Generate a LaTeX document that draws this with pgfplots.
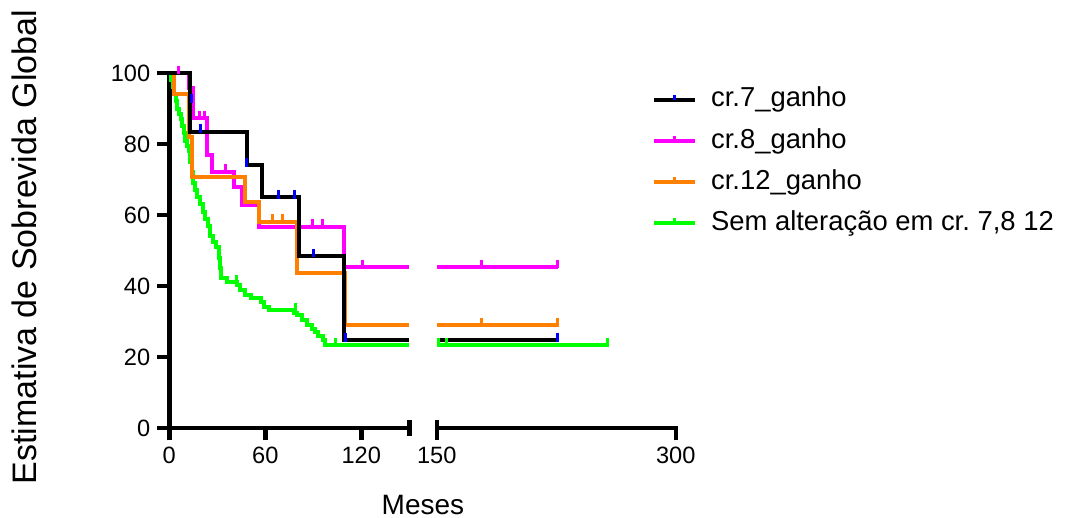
\documentclass[border=0pt]{standalone}
\usepackage{pgfplots}
\pgfplotsset{compat=1.18}
\usepackage{fontspec}
\setmainfont{Liberation Sans}
\frenchspacing
\definecolor{kmMag}{RGB}{255,0,255}
\definecolor{kmOra}{RGB}{255,128,0}
\definecolor{kmGre}{RGB}{0,255,0}
\definecolor{kmBlu}{RGB}{0,0,255}
\pgfplotsset{
  kmbase/.style={
    scale only axis, anchor=south west,
    height=177.65pt, ymin=0, ymax=100,
    axis line style={-, line width=2.2pt, line cap=rect},
    x axis line style={-}, y axis line style={-},
    tick style={line width=2.2pt, black},
    tick align=outside, major tick length=6pt,
    /pgf/number format/assume math mode=true,
    ticklabel style={font=\fontsize{11.8}{12}\selectfont},
    clip=false,
  },
  km/.style={const plot, line width=2pt, no marks, forget plot},
  censor/.style={only marks, mark=|, mark size=2.2pt, forget plot,
    mark options={line width=1.5pt, yshift=1.5pt}},
}
\begin{document}
\begin{tikzpicture}
\useasboundingbox (0,0) rectangle (532.5pt,259pt);
% ---------------- left segment ----------------
\begin{axis}[kmbase, at={(84.65pt,44.85pt)}, width=120pt,
  xmin=0, xmax=150,
  axis x line*=bottom, axis y line*=left,
  xtick={0,60,120}, ytick={0,20,40,60,80,100},
  extra x ticks={150}, extra x tick labels={},
  extra x tick style={tick align=center, major tick length=8pt},
  ylabel={Estimativa de Sobrevida Global},
  ylabel style={font=\fontsize{17}{19}\selectfont, at={(axis description cs:-0.605,0.51)}, anchor=center},
  xlabel={Meses},
  xlabel style={font=\fontsize{14}{16}\selectfont, at={(axis description cs:1.057,-0.244)}, anchor=base},
]
% green: Sem alteracao
\addplot[km, kmGre] coordinates {
(0,100)(1,98)(2,96)(3,94)(4,92)(5,90)(6,88.5)(7,87)(8,85)(9,83)(10,81)(11,79.5)(12,78)
(13,75)(14,72)(15,69)(16,67)(17,65)(19,63)(21,61)(22.5,59)(24,57)(25.5,54)(27,52.5)
(29,51)(31,48)(31.5,45)(32,42.2)(36,41.2)(42,40.2)(44,38.9)(47,37.5)(51,36.6)(57,35.5)
(59,34.2)(62,33.2)(78,32.5)(80,31.8)(83,30.5)(86,29)(89,28)(91,27)(93,26)(96,24.8)
(97,23.4)(150,23.4)};
\addplot[censor, kmGre] coordinates {(42,41.2)(79,33.2)(104,23.4)};
% magenta: cr.8
\addplot[km, kmMag] coordinates {
(0,100)(12,95.7)(15,87.2)(23.5,76.9)(26.6,72.2)(40.2,68)(45.4,62.8)(55.9,56.7)
(109.2,45.4)(150,45.4)};
\addplot[censor, kmMag] coordinates {(6,100)(19,87.2)(22,87.2)(35,72.2)(89.4,56.7)(95.7,56.7)(121,45.4)};
% orange: cr.12
\addplot[km, kmOra] coordinates {
(0,100)(3,94)(12,82)(14,70.8)(47.5,63.8)(55.9,58.1)(80,43.6)(109.7,29)(150,29)};
\addplot[censor, kmOra] coordinates {(64.6,58.1)(70.9,58.1)};
% black: cr.7
\addplot[km, black] coordinates {
(0,100)(13,83.5)(48.4,74)(58,65)(81,48.5)(109,24.8)(150,24.8)};
\addplot[censor, kmBlu] coordinates {(14,92)(19.5,83.5)(48,74)(68,65)(78,65)(90,48.5)(110,24.8)};
\end{axis}
% ---------------- right segment ----------------
\begin{axis}[kmbase, at={(218.4pt,44.85pt)}, width=119.45pt,
  xmin=150, xmax=300,
  axis x line*=bottom, axis y line=none,
  xtick={150,300},
  extra x ticks={150}, extra x tick labels={},
  extra x tick style={tick align=inside, major tick length=4pt},
  legend cell align=left,
  legend style={at={(axis description cs:0.8996,0.962)}, anchor=north west,
    draw=none, fill=none, inner sep=0pt,
    font=\fontsize{13.7}{16}\selectfont,
    nodes={inner sep=0pt, text height=10pt, text depth=3pt},
    row sep=7.6pt, column sep=7pt},
]
\addplot[km, kmGre] coordinates {(150,23.4)(257,23.4)};
\addplot[censor, kmGre] coordinates {(151,23.4)(156,23.4)(257,23.4)};
\addplot[km, kmMag] coordinates {(150,45.4)(226,45.4)};
\addplot[censor, kmMag] coordinates {(178,45.4)(226,45.4)};
\addplot[km, kmOra] coordinates {(150,29)(226,29)};
\addplot[censor, kmOra] coordinates {(178,29)(226,29)};
\addplot[km, black] coordinates {(150,24.8)(226,24.8)};
\addplot[censor, kmBlu] coordinates {(226,24.8)};
\addlegendimage{legend image code/.code={\draw[black,line width=2pt] (0pt,0pt)--(20.5pt,0pt); \draw[kmBlu,line width=1.5pt] (10.25pt,0pt)--(10.25pt,2.5pt);}}
\addlegendentry{cr.7\_ganho}
\addlegendimage{legend image code/.code={\draw[kmMag,line width=2pt] (0pt,0pt)--(20.5pt,0pt); \draw[kmMag,line width=1.5pt] (10.25pt,0pt)--(10.25pt,2.5pt);}}
\addlegendentry{cr.8\_ganho}
\addlegendimage{legend image code/.code={\draw[kmOra,line width=2pt] (0pt,0pt)--(20.5pt,0pt); \draw[kmOra,line width=1.5pt] (10.25pt,0pt)--(10.25pt,2.5pt);}}
\addlegendentry{cr.12\_ganho}
\addlegendimage{legend image code/.code={\draw[kmGre,line width=2pt] (0pt,0pt)--(20.5pt,0pt); \draw[kmGre,line width=1.5pt] (10.25pt,0pt)--(10.25pt,2.5pt);}}
\addlegendentry{Sem alteração em cr. 7,8 12}
\end{axis}
\end{tikzpicture}
\end{document}
